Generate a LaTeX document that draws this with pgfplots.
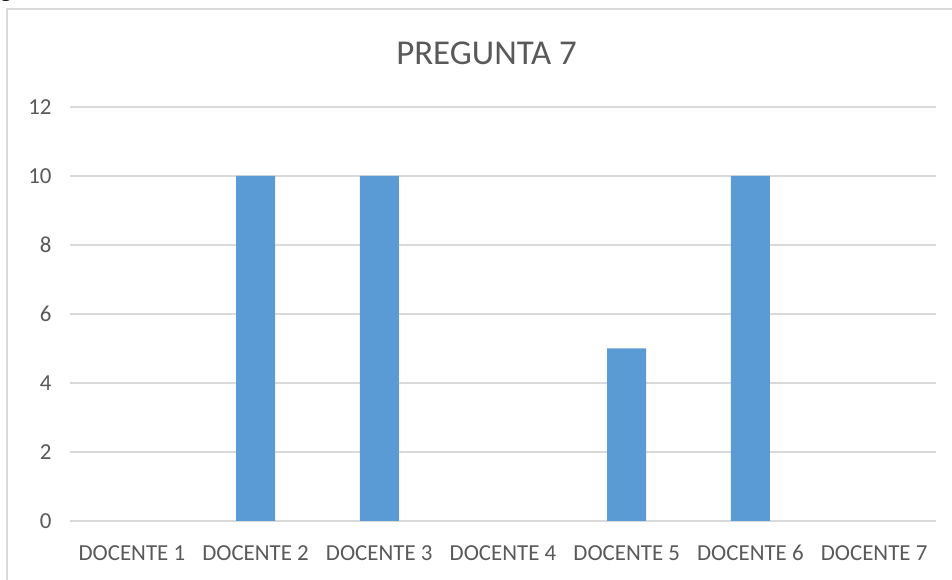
\documentclass[border=0pt]{standalone}
\usepackage{fontspec}
\setmainfont{Carlito}
\newfontfamily\serifx{Liberation Serif}
\usepackage{pgfplots}
\pgfplotsset{compat=1.18}
\definecolor{barblue}{HTML}{5B9BD5}
\definecolor{txtgray}{HTML}{595959}
\definecolor{gridgray}{HTML}{D9D9D9}
\begin{document}
\begin{tikzpicture}
\useasboundingbox (0,0) rectangle (952bp,580bp);
\clip (0,0) rectangle (952bp,580bp);
\node[anchor=base west, inner sep=0pt, font=\serifx\fontsize{23}{27}\selectfont] at (-19bp,583bp) {Figura 7};
\draw[gridgray, line width=2bp] (7bp,0) -- (7bp,571bp) -- (960bp,571bp);
\node[anchor=base, inner sep=0pt, text=txtgray, font=\fontsize{35}{40}\selectfont] at (486.5bp,515bp) {PREGUNTA 7};
\begin{axis}[
  at={(70bp,59bp)}, anchor=south west,
  scale only axis, width=866bp, height=414bp,
  xmin=-0.5, xmax=6.5, ymin=0, ymax=12,
  axis line style={draw=none},
  ytick={0,2,4,6,8,10,12},
  ymajorgrids, grid style={gridgray, line width=1.3bp},
  major tick length=0pt,
  xtick={0,1,2,3,4,5,6},
  xticklabels={DOCENTE 1,DOCENTE 2,DOCENTE 3,DOCENTE 4,DOCENTE 5,DOCENTE 6,DOCENTE 7},
  /pgf/number format/assume math mode=true,
  tick label style={text=txtgray, font=\fontsize{23}{27}\selectfont},
  yticklabel style={xshift=-15bp},
  xticklabel style={anchor=base, yshift=-39bp},
  ybar, bar width=39bp,
]
\addplot[fill=barblue, draw=none] coordinates {(0,0) (1,10) (2,10) (3,0) (4,5) (5,10) (6,0)};
\end{axis}
\end{tikzpicture}
\end{document}
